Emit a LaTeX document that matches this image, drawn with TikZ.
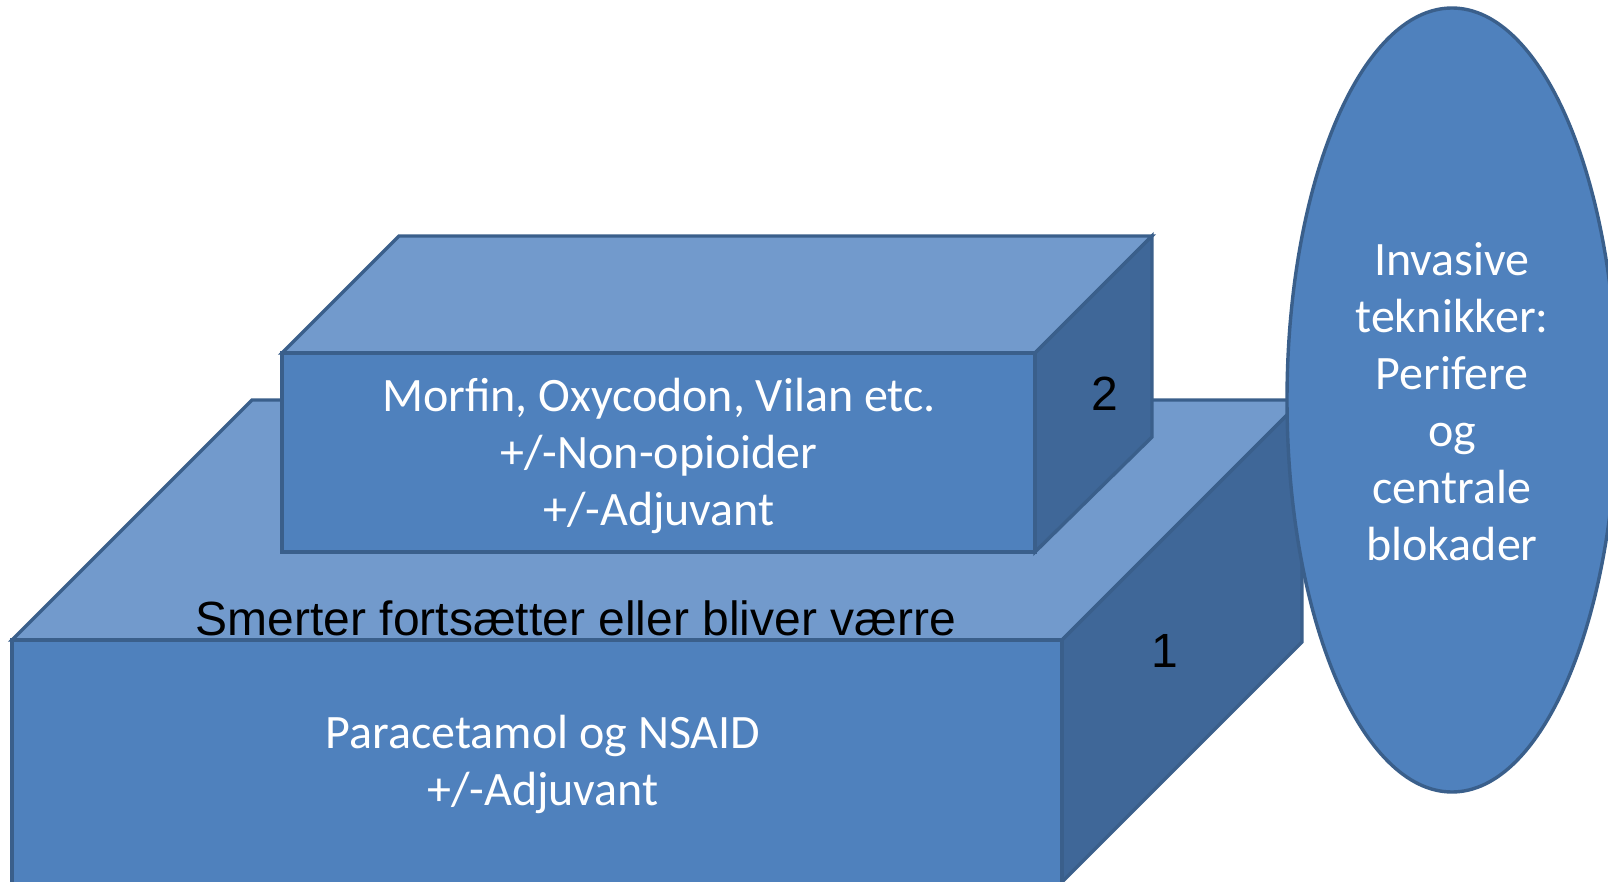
\documentclass[tikz,border=0pt]{standalone}
\usepackage{fontspec}
\setmainfont{Carlito}
\newfontfamily\arialf{Liberation Sans}
\usetikzlibrary{shapes.geometric}
\definecolor{frontc}{HTML}{4F81BD}
\definecolor{topc}{HTML}{729ACC}
\definecolor{sidec}{HTML}{3F6798}
\definecolor{edgec}{HTML}{3A5F8B}
\tikzset{
  face/.style={draw=edgec,line width=3.4pt,line join=miter},
  wtext/.style={text=white,align=center,font=\fontsize{48}{57}\selectfont,inner sep=0pt},
  btext/.style={text=black,font=\arialf\fontsize{48}{57}\selectfont,inner sep=0pt},
}
\begin{document}
\begin{tikzpicture}[x=1pt,y=-1pt]
\useasboundingbox (0,0) rectangle (1608,882);
\clip (0,0) rectangle (1608,882);
% bottom box
\draw[face,fill=topc] (12,640) -- (252,400) -- (1302,400) -- (1062,640) -- cycle;
\draw[face,fill=sidec] (1062,640) -- (1302,400) -- (1302,642) -- (1062,882) -- cycle;
\draw[face,fill=frontc] (12,640) rectangle (1062,884);
% top box
\draw[face,fill=topc] (282,353) -- (399,236) -- (1152,236) -- (1035,353) -- cycle;
\draw[face,fill=sidec] (1035,353) -- (1152,236) -- (1152,437) -- (1035,552) -- cycle;
\draw[face,fill=frontc] (282,353) rectangle (1035,552);
% ellipse
\node[ellipse,draw=edgec,line width=3.4pt,fill=frontc,minimum width=330pt,minimum height=784pt,inner sep=0pt] (ell) at (1452,400) {};
\node[wtext] (elltext) at (1452,402) {Invasive\\teknikker:\\Perifere\\og\\centrale\\blokader};
% texts
\node[wtext] (t2) at (659,456) {Morfin, Oxycodon, Vilan etc.\\+/-Non-opioider\\+/-Adjuvant};
\node[wtext] (t1) at (543,764) {Paracetamol og NSAID\\+/-Adjuvant};
\node[btext] (smerter) at (576,618) {Smerter fortsætter eller bliver værre};
\node[btext] (n2) at (1105,394) {2};
\node[btext] (n1) at (1165,651) {1};
\end{tikzpicture}
\end{document}
